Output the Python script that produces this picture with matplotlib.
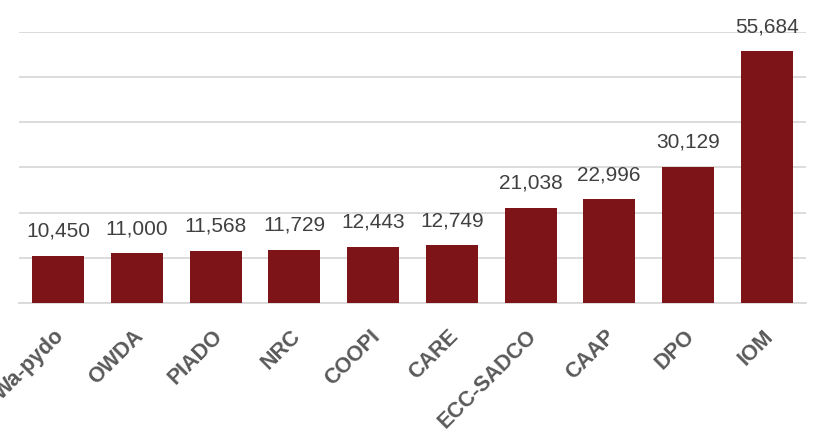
import matplotlib
matplotlib.use("Agg")
import matplotlib.pyplot as plt
from matplotlib.transforms import ScaledTranslation

categories = ["Wa-pydo", "OWDA", "PIADO", "NRC", "COOPI", "CARE", "ECC-SADCO", "CAAP", "DPO", "IOM"]
values = [10450, 11000, 11568, 11729, 12443, 12749, 21038, 22996, 30129, 55684]
value_labels = ["10,450", "11,000", "11,568", "11,729", "12,443", "12,749", "21,038", "22,996", "30,129", "55,684"]

plt.rcParams['font.family'] = ['Liberation Sans', 'DejaVu Sans']

fig = plt.figure(figsize=(8.2, 4.34), dpi=100)
ax = fig.add_axes([19/820, (434-303)/434, (806-19)/820, (303-32)/434])

x = list(range(len(categories)))
ax.bar(x, values, width=0.66, color="#7D1518", zorder=3)

ax.set_xlim(-0.5, len(categories) - 0.5)
ax.set_ylim(0, 60000)
ax.set_yticks(range(0, 60001, 10000))
ax.yaxis.grid(True, color="#D9D9D9", linewidth=1.3, zorder=0)
ax.tick_params(axis='y', left=False, labelleft=False)
ax.tick_params(axis='x', bottom=False, pad=13)
for s in ["top", "right", "left"]:
    ax.spines[s].set_visible(False)
ax.spines["bottom"].set_color("#D9D9D9")
ax.spines["bottom"].set_linewidth(1.3)

ax.set_xticks(x)
ax.set_xticklabels(categories, rotation=45, ha="right", rotation_mode="anchor",
                   fontsize=15.5, fontweight="bold", color="#595959")
shift = ScaledTranslation(-4/100, 0, fig.dpi_scale_trans)
for lbl in ax.get_xticklabels():
    lbl.set_transform(lbl.get_transform() + shift)

for xi, v, lab in zip(x, values, value_labels):
    ax.annotate(lab, (xi, v), xytext=(0, 13.7), textcoords="offset points",
                ha="center", va="baseline", fontsize=15, color="#404040")

fig.savefig("out.png", dpi=100)
